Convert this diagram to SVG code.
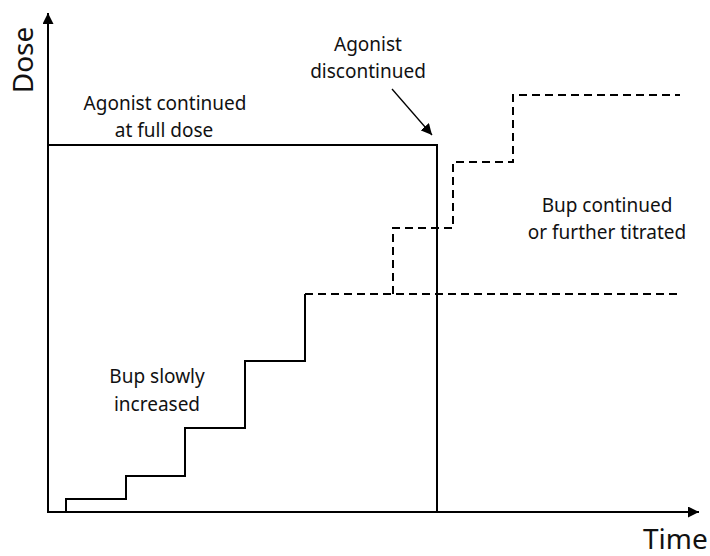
<svg xmlns="http://www.w3.org/2000/svg" width="710" height="556" viewBox="0 0 710 556">
<defs>
<marker id="ah2" viewBox="0 0 10 10" refX="10" refY="5" markerWidth="11" markerHeight="11" orient="auto" markerUnits="userSpaceOnUse">
<path d="M0,0 L10,5 L0,10 z" fill="#000"/>
</marker>
<style>
.ln{fill:none;stroke:#000;stroke-width:2;stroke-linejoin:miter}
.ax{fill:none;stroke:#000;stroke-width:2}
.ds{fill:none;stroke:#000;stroke-width:2;stroke-dasharray:8 5}
.t{font-family:"Noto Sans","Open Sans",sans-serif;font-size:19px;fill:#111;text-anchor:middle}
.big{font-family:"Noto Sans","Open Sans",sans-serif;font-size:28px;fill:#111}
</style>
</defs>
<rect width="710" height="556" fill="#fff"/>
<g id="connectors">
<line id="yaxis" class="ax" x1="48" y1="512" x2="48" y2="13" marker-end="url(#ah2)"/>
<line id="xaxis" class="ax" x1="47" y1="512" x2="699" y2="512" marker-end="url(#ah2)"/>
<polyline id="agonist" class="ln" points="48,145 437,145 437,512"/>
<polyline id="bup-steps" class="ln" points="66,512 66,499 126,499 126,476 185,476 185,428 245,428 245,361 305,361 305,294"/>
<polyline id="bup-flat" class="ds" points="305,294 680,294"/>
<polyline id="bup-titrated" class="ds" points="393,294 393,228 453,228 453,162 513,162 513,95 680,95"/>
<line id="disc-arrow" x1="392" y1="89" x2="432" y2="135" stroke="#000" stroke-width="1.3" marker-end="url(#ah2)"/>
</g>
<g id="label-dose"><text class="big" x="0" y="0" text-anchor="middle" transform="translate(33,60) rotate(-90)">Dose</text></g>
<g id="label-time"><text class="big" x="643" y="549">Time</text></g>
<g id="label-agonist-continued"><text class="t" x="165" y="110">Agonist continued</text><text class="t" x="164" y="137">at full dose</text></g>
<g id="label-agonist-discontinued"><text class="t" x="368" y="51">Agonist</text><text class="t" x="368" y="78">discontinued</text></g>
<g id="label-bup-continued"><text class="t" x="607" y="212">Bup continued</text><text class="t" x="607" y="239">or further titrated</text></g>
<g id="label-bup-slowly"><text class="t" x="157" y="383">Bup slowly</text><text class="t" x="157" y="411">increased</text></g>
</svg>
